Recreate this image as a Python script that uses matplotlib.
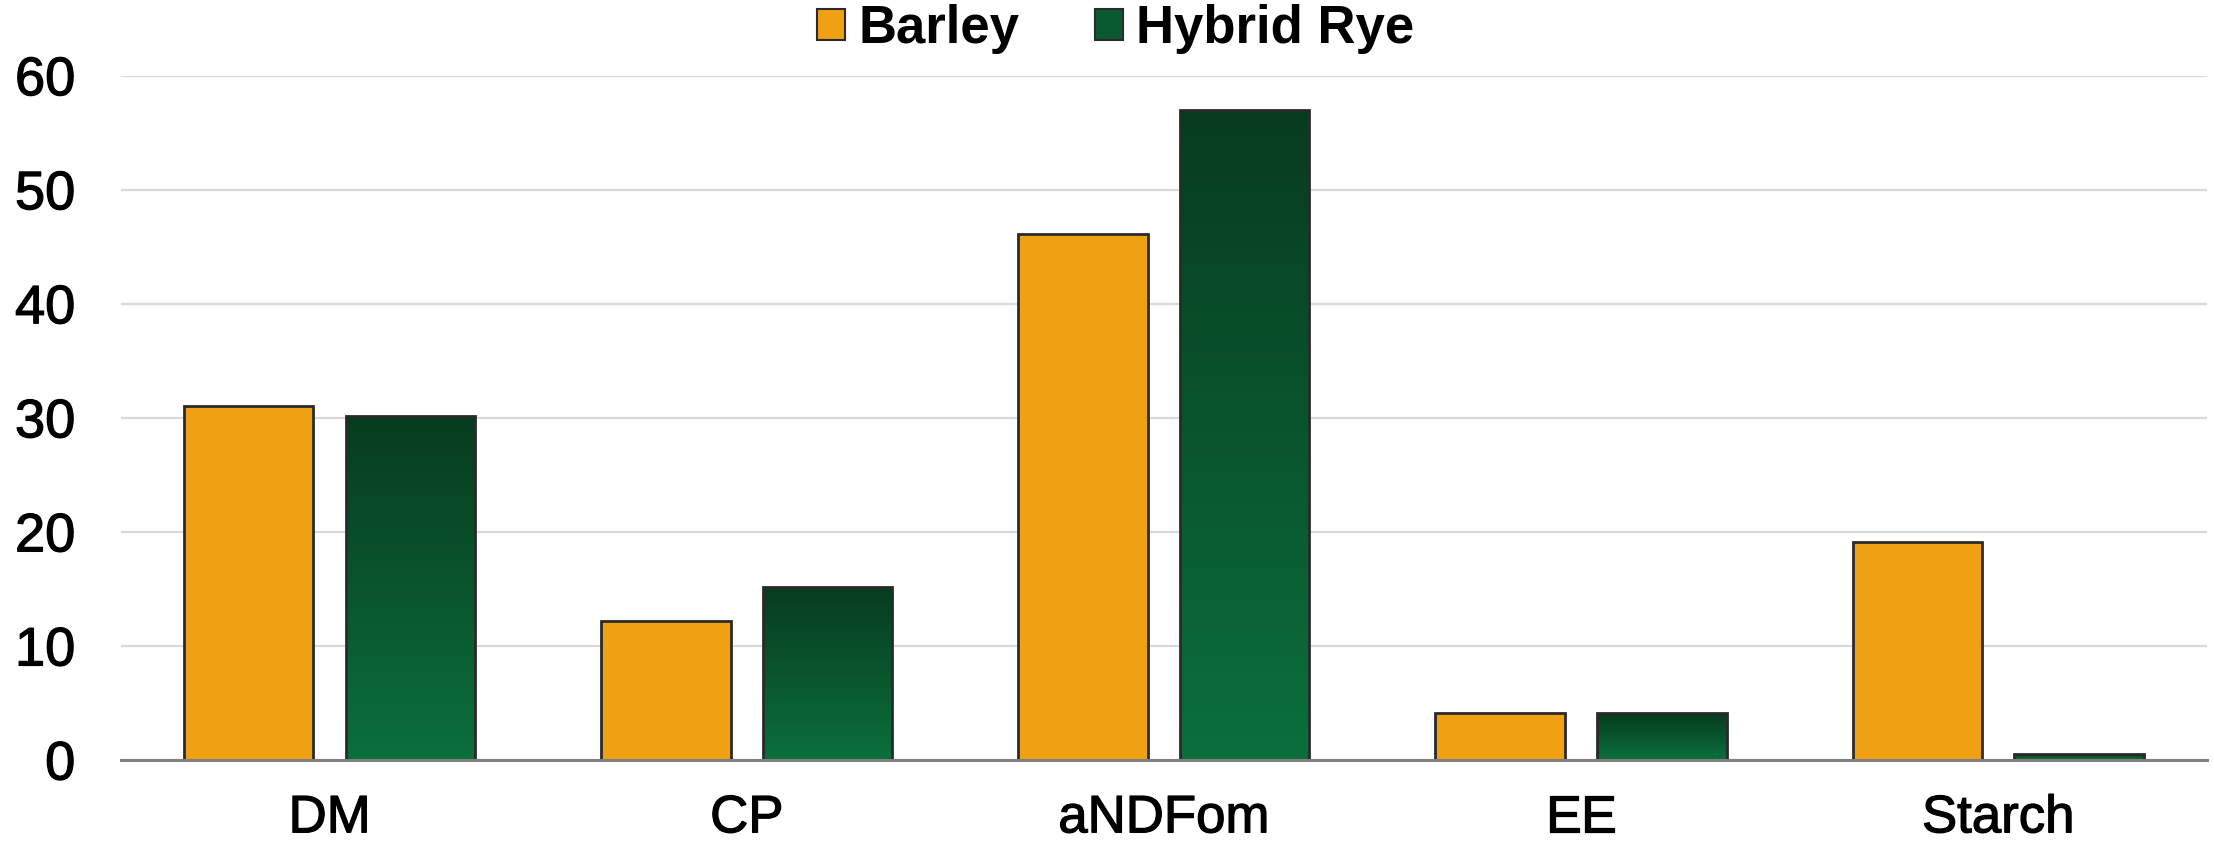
import numpy as np
import matplotlib.pyplot as plt
import matplotlib.patheffects as pe
from matplotlib.patches import Patch, Rectangle
from matplotlib.colors import LinearSegmentedColormap

# nutrient composition, % of DM
nutrients = ['DM', 'CP', 'aNDFom', 'EE', 'Starch']
barley = [31.0, 12.2, 46.1, 4.1, 19.1]
hybrid_rye = [30.2, 15.2, 57.0, 4.1, 0.5]

orange = '#f0a013'
green_dark = '#073c1f'
green_light = '#0b6f3d'
edge = '#2a2a2a'

plt.rcParams['font.family'] = ['Liberation Sans', 'DejaVu Sans']

fig = plt.figure(figsize=(22.14, 8.47), dpi=100)
ax = fig.add_axes([0.0547, 0.1027, 0.942, 0.808])

x = np.arange(len(nutrients))
w = 0.31
off = 0.194

green_cmap = LinearSegmentedColormap.from_list('rye', [green_light, green_dark])
grad = np.linspace(0, 1, 256).reshape(-1, 1)

ax.bar(x - off, barley, w, color=orange, edgecolor=edge, linewidth=2, zorder=3)

# green bars get a vertical gradient, dark at the top
for xi, v in zip(x + off, hybrid_rye):
    left, right = xi - w / 2, xi + w / 2
    rect = Rectangle((left, 0), w, v, facecolor='none', edgecolor=edge,
                     linewidth=2, zorder=4)
    ax.add_patch(rect)
    im = ax.imshow(grad, cmap=green_cmap, aspect='auto', origin='lower',
                   extent=(left, right, 0, v), zorder=3, interpolation='bicubic')
    im.set_clip_path(rect)

ax.set_xlim(-0.5, 4.5)
ax.set_ylim(0, 60)
ax.set_yticks(range(0, 61, 10))
ax.set_xticks(x)
ax.set_xticklabels(nutrients)
ax.tick_params(axis='y', length=0, pad=33, labelsize=39)
ax.tick_params(axis='x', length=0, pad=24, labelsize=38)

# slightly heavier label strokes
thick = [pe.withStroke(linewidth=0.9, foreground='black')]
for lab in ax.get_xticklabels() + ax.get_yticklabels():
    lab.set_path_effects(thick)

ax.grid(axis='y', color='#d9d9d9', linewidth=1.6, zorder=0)
ax.set_axisbelow(True)
for s in ['top', 'right', 'left']:
    ax.spines[s].set_visible(False)
ax.spines['bottom'].set_color('#808080')
ax.spines['bottom'].set_linewidth(2.2)
ax.spines['bottom'].set_zorder(5)

handles = [Patch(facecolor=orange, edgecolor=edge, linewidth=1.5),
           Patch(facecolor='#0a5a31', edgecolor=edge, linewidth=1.5)]
fig.legend(handles, ['Barley', 'Hybrid Rye'], loc='center',
           bbox_to_anchor=(0.504, 0.966), ncol=2, frameon=False,
           prop={'weight': 'bold', 'size': 38},
           handlelength=0.53, handleheight=0.53, handletextpad=0.25,
           columnspacing=1.44, borderpad=0)

fig.savefig('out.png', dpi=100)
